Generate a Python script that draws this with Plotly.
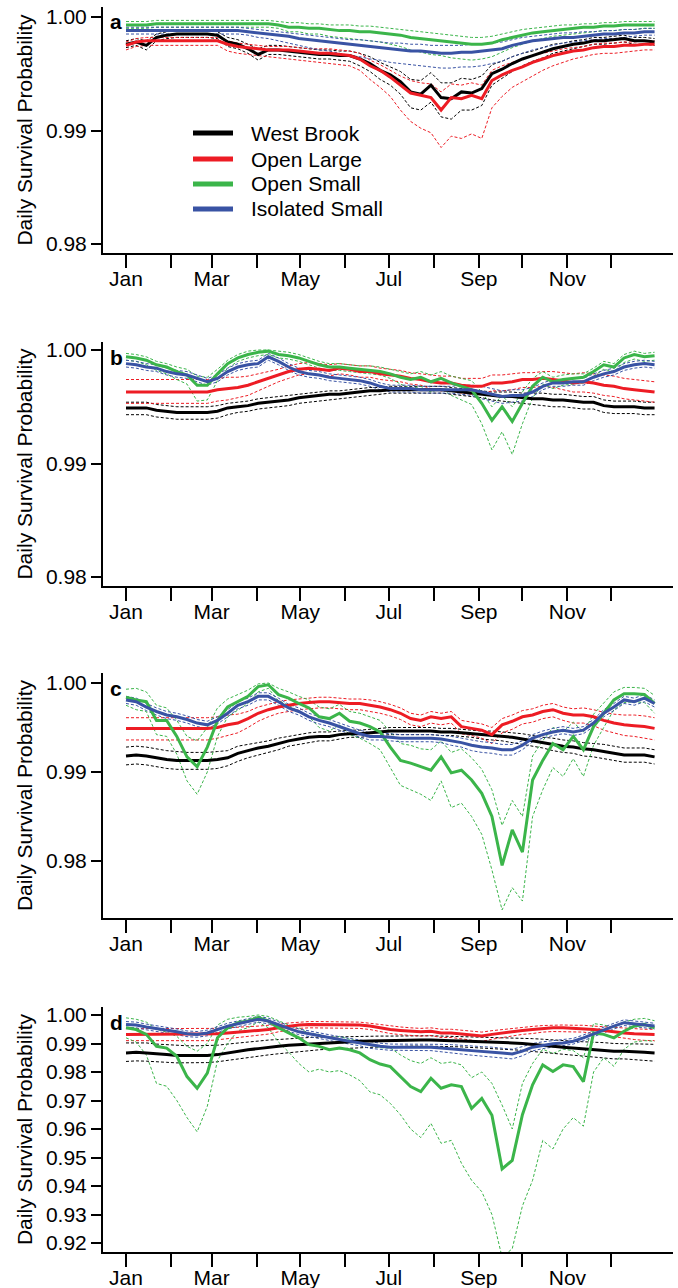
import plotly.graph_objects as go

# ---------------- data ----------------
days = [0, 7, 14, 21, 28, 35, 42, 49, 56, 63, 70, 77, 84, 91, 98, 105, 112, 119, 126, 133,
        140, 147, 154, 161, 168, 175, 182, 189, 196, 203, 210, 217, 224, 231, 238, 245, 252,
        259, 266, 273, 280, 287, 294, 301, 308, 315, 322, 329, 336, 343, 350, 357, 364]

month_days = [0, 31, 59, 90, 120, 151, 181, 212, 243, 273, 304, 334]
month_labels = ["Jan", "", "Mar", "", "May", "", "Jul", "", "Sep", "", "Nov", ""]

series_names = ["West Brook", "Open Large", "Open Small", "Isolated Small"]
panel_letters = ["a", "b", "c", "d"]

# ----- panel a -----
a_wb = [0.9976,0.9978,0.9975,0.9982,0.9984,0.9985,0.9985,0.9985,0.9985,0.9984,
        0.9978,0.9976,0.9972,0.9967,0.9971,0.9971,0.9970,0.9969,0.9968,0.9967,
        0.9967,0.9966,0.9966,0.9963,0.9959,0.9953,0.9949,0.9943,0.9934,0.9932,
        0.9940,0.9929,0.9928,0.9934,0.9933,0.9937,0.9950,0.9954,0.9959,0.9963,
        0.9966,0.9969,0.9972,0.9974,0.9976,0.9977,0.9979,0.9979,0.9980,0.9981,
        0.9979,0.9979,0.9978]
a_wb_hi = [0.9979,0.9981,0.9979,0.9985,0.9987,0.9988,0.9988,0.9988,0.9988,0.9987,
           0.9982,0.9980,0.9976,0.9972,0.9975,0.9975,0.9974,0.9973,0.9972,0.9971,
           0.9971,0.9970,0.9970,0.9968,0.9965,0.9960,0.9956,0.9952,0.9945,0.9944,
           0.9951,0.9942,0.9942,0.9946,0.9945,0.9948,0.9958,0.9961,0.9965,0.9968,
           0.9970,0.9973,0.9976,0.9977,0.9979,0.9980,0.9982,0.9982,0.9983,0.9984,
           0.9982,0.9982,0.9981]
a_wb_lo = [0.9973,0.9975,0.9971,0.9979,0.9981,0.9982,0.9982,0.9982,0.9982,0.9981,
           0.9974,0.9972,0.9968,0.9962,0.9967,0.9967,0.9966,0.9965,0.9964,0.9963,
           0.9963,0.9962,0.9961,0.9957,0.9952,0.9945,0.9940,0.9932,0.9920,0.9918,
           0.9925,0.9912,0.9910,0.9918,0.9918,0.9922,0.9940,0.9946,0.9952,0.9957,
           0.9961,0.9964,0.9968,0.9970,0.9972,0.9974,0.9976,0.9976,0.9977,0.9978,
           0.9976,0.9976,0.9975]
a_ol = [0.9975,0.9978,0.9979,0.9979,0.9979,0.9979,0.9979,0.9979,0.9979,0.9979,
        0.9976,0.9974,0.9973,0.9972,0.9971,0.9971,0.9971,0.9970,0.9969,0.9968,
        0.9968,0.9967,0.9966,0.9963,0.9957,0.9953,0.9947,0.9940,0.9933,0.9931,
        0.9929,0.9918,0.9929,0.9928,0.9931,0.9928,0.9944,0.9949,0.9953,0.9956,
        0.9960,0.9963,0.9966,0.9968,0.9970,0.9971,0.9973,0.9974,0.9974,0.9975,
        0.9975,0.9976,0.9976]
a_ol_hi = [0.9978,0.9981,0.9982,0.9982,0.9982,0.9982,0.9982,0.9982,0.9982,0.9982,
           0.9979,0.9977,0.9976,0.9975,0.9974,0.9974,0.9974,0.9973,0.9972,0.9972,
           0.9972,0.9971,0.9970,0.9968,0.9962,0.9958,0.9953,0.9948,0.9944,0.9942,
           0.9941,0.9934,0.9941,0.9940,0.9942,0.9940,0.9953,0.9957,0.9960,0.9963,
           0.9966,0.9968,0.9970,0.9972,0.9973,0.9974,0.9976,0.9977,0.9977,0.9978,
           0.9978,0.9979,0.9979]
a_ol_lo = [0.9971,0.9974,0.9975,0.9975,0.9975,0.9975,0.9975,0.9975,0.9975,0.9975,
           0.9970,0.9968,0.9967,0.9966,0.9965,0.9964,0.9963,0.9962,0.9961,0.9960,
           0.9959,0.9958,0.9957,0.9953,0.9945,0.9938,0.9930,0.9918,0.9908,0.9902,
           0.9898,0.9885,0.9895,0.9893,0.9897,0.9893,0.9920,0.9930,0.9938,0.9943,
           0.9948,0.9953,0.9957,0.9960,0.9963,0.9965,0.9967,0.9968,0.9968,0.9969,
           0.9970,0.9971,0.9971]
a_os = [0.9993,0.9993,0.9993,0.9994,0.9994,0.9994,0.9994,0.9994,0.9994,0.9994,
        0.9994,0.9994,0.9994,0.9994,0.9994,0.9993,0.9991,0.9991,0.9990,0.9990,
        0.9989,0.9988,0.9988,0.9987,0.9987,0.9986,0.9985,0.9984,0.9982,0.9981,
        0.9980,0.9979,0.9978,0.9977,0.9976,0.9976,0.9977,0.9980,0.9982,0.9984,
        0.9986,0.9987,0.9988,0.9989,0.9990,0.9991,0.9991,0.9992,0.9992,0.9993,
        0.9993,0.9993,0.9993]
a_os_hi = [0.9996,0.9996,0.9996,0.9997,0.9997,0.9997,0.9997,0.9997,0.9997,0.9997,
           0.9997,0.9997,0.9997,0.9997,0.9997,0.9996,0.9995,0.9995,0.9994,0.9994,
           0.9993,0.9993,0.9993,0.9992,0.9992,0.9991,0.9990,0.9989,0.9988,0.9987,
           0.9986,0.9985,0.9984,0.9983,0.9982,0.9982,0.9983,0.9985,0.9987,0.9989,
           0.9990,0.9991,0.9992,0.9993,0.9993,0.9994,0.9994,0.9995,0.9995,0.9996,
           0.9996,0.9996,0.9996]
a_os_lo = [0.9990,0.9990,0.9990,0.9991,0.9991,0.9991,0.9991,0.9991,0.9991,0.9991,
           0.9991,0.9991,0.9991,0.9991,0.9991,0.9990,0.9987,0.9987,0.9985,0.9985,
           0.9983,0.9982,0.9981,0.9980,0.9979,0.9978,0.9976,0.9974,0.9971,0.9969,
           0.9967,0.9966,0.9964,0.9963,0.9962,0.9963,0.9965,0.9969,0.9973,0.9976,
           0.9979,0.9981,0.9983,0.9984,0.9985,0.9986,0.9987,0.9988,0.9988,0.9989,
           0.9989,0.9990,0.9990]
a_is = [0.9988,0.9988,0.9988,0.9988,0.9988,0.9988,0.9988,0.9988,0.9988,0.9988,
        0.9988,0.9988,0.9987,0.9986,0.9985,0.9984,0.9983,0.9981,0.9980,0.9979,
        0.9978,0.9977,0.9976,0.9975,0.9974,0.9973,0.9972,0.9971,0.9970,0.9970,
        0.9969,0.9968,0.9968,0.9969,0.9969,0.9970,0.9971,0.9972,0.9975,0.9977,
        0.9979,0.9980,0.9981,0.9982,0.9982,0.9983,0.9984,0.9985,0.9985,0.9986,
        0.9986,0.9987,0.9987]
a_is_hi = [0.9991,0.9991,0.9991,0.9991,0.9991,0.9991,0.9991,0.9991,0.9991,0.9991,
           0.9991,0.9991,0.9990,0.9989,0.9988,0.9987,0.9986,0.9985,0.9984,0.9983,
           0.9982,0.9981,0.9980,0.9980,0.9979,0.9978,0.9977,0.9977,0.9976,0.9976,
           0.9975,0.9975,0.9975,0.9975,0.9976,0.9976,0.9977,0.9978,0.9980,0.9982,
           0.9983,0.9984,0.9985,0.9986,0.9986,0.9987,0.9987,0.9988,0.9988,0.9989,
           0.9989,0.9990,0.9990]
a_is_lo = [0.9985,0.9985,0.9985,0.9985,0.9985,0.9985,0.9985,0.9985,0.9985,0.9985,
           0.9985,0.9985,0.9984,0.9982,0.9981,0.9979,0.9977,0.9975,0.9973,0.9971,
           0.9970,0.9968,0.9966,0.9965,0.9963,0.9962,0.9960,0.9959,0.9958,0.9957,
           0.9956,0.9955,0.9955,0.9956,0.9956,0.9957,0.9959,0.9961,0.9965,0.9968,
           0.9971,0.9973,0.9975,0.9977,0.9978,0.9979,0.9980,0.9981,0.9981,0.9982,
           0.9983,0.9984,0.9984]

# ----- panel b -----
b_wb = [0.9949,0.9949,0.9949,0.9947,0.9946,0.9945,0.9945,0.9945,0.9945,0.9946,
        0.9949,0.9950,0.9951,0.9953,0.9954,0.9955,0.9956,0.9958,0.9959,0.9960,
        0.9961,0.9961,0.9962,0.9963,0.9964,0.9964,0.9965,0.9965,0.9965,0.9965,
        0.9965,0.9965,0.9964,0.9963,0.9962,0.9961,0.9960,0.9959,0.9959,0.9958,
        0.9957,0.9957,0.9956,0.9956,0.9955,0.9954,0.9954,0.9951,0.9950,0.9950,
        0.9950,0.9949,0.9949]
b_wb_hi = [0.9954,0.9954,0.9954,0.9952,0.9951,0.9950,0.9950,0.9950,0.9950,0.9951,
           0.9953,0.9954,0.9955,0.9957,0.9958,0.9959,0.9960,0.9961,0.9962,0.9963,
           0.9964,0.9964,0.9965,0.9966,0.9967,0.9967,0.9968,0.9968,0.9968,0.9968,
           0.9968,0.9968,0.9967,0.9966,0.9965,0.9964,0.9963,0.9963,0.9963,0.9962,
           0.9962,0.9962,0.9961,0.9961,0.9960,0.9959,0.9959,0.9956,0.9955,0.9955,
           0.9955,0.9954,0.9954]
b_wb_lo = [0.9943,0.9943,0.9943,0.9941,0.9940,0.9939,0.9939,0.9939,0.9939,0.9940,
           0.9943,0.9945,0.9946,0.9948,0.9949,0.9950,0.9951,0.9953,0.9954,0.9955,
           0.9956,0.9957,0.9958,0.9959,0.9960,0.9961,0.9962,0.9962,0.9962,0.9962,
           0.9962,0.9962,0.9961,0.9960,0.9959,0.9958,0.9956,0.9955,0.9954,0.9953,
           0.9952,0.9951,0.9950,0.9950,0.9949,0.9948,0.9948,0.9945,0.9944,0.9944,
           0.9944,0.9943,0.9943]
b_ol = [0.9963,0.9963,0.9963,0.9963,0.9963,0.9963,0.9963,0.9963,0.9963,0.9965,
        0.9966,0.9967,0.9969,0.9972,0.9975,0.9978,0.9981,0.9983,0.9984,0.9983,
        0.9982,0.9984,0.9983,0.9981,0.9981,0.9979,0.9978,0.9977,0.9975,0.9974,
        0.9972,0.9971,0.9971,0.9969,0.9968,0.9968,0.9971,0.9971,0.9972,0.9974,
        0.9974,0.9975,0.9974,0.9973,0.9971,0.9972,0.9971,0.9969,0.9968,0.9966,
        0.9965,0.9964,0.9963]
b_ol_hi = [0.9974,0.9974,0.9974,0.9974,0.9974,0.9974,0.9974,0.9974,0.9974,0.9975,
           0.9976,0.9976,0.9977,0.9979,0.9981,0.9983,0.9986,0.9988,0.9989,0.9988,
           0.9987,0.9988,0.9987,0.9986,0.9986,0.9984,0.9983,0.9982,0.9980,0.9979,
           0.9978,0.9977,0.9977,0.9975,0.9975,0.9975,0.9978,0.9978,0.9979,0.9980,
           0.9980,0.9981,0.9981,0.9980,0.9979,0.9980,0.9979,0.9978,0.9977,0.9975,
           0.9974,0.9973,0.9972]
b_ol_lo = [0.9953,0.9953,0.9953,0.9953,0.9953,0.9953,0.9953,0.9953,0.9953,0.9955,
           0.9956,0.9958,0.9960,0.9964,0.9968,0.9972,0.9975,0.9978,0.9979,0.9978,
           0.9977,0.9979,0.9978,0.9976,0.9976,0.9974,0.9973,0.9972,0.9970,0.9969,
           0.9966,0.9964,0.9964,0.9962,0.9961,0.9961,0.9964,0.9964,0.9965,0.9967,
           0.9967,0.9968,0.9967,0.9965,0.9963,0.9963,0.9962,0.9960,0.9959,0.9957,
           0.9956,0.9955,0.9954]
b_os = [0.9994,0.9993,0.9991,0.9987,0.9985,0.9981,0.9978,0.9969,0.9969,0.9979,
        0.9988,0.9993,0.9996,0.9998,0.9999,0.9996,0.9995,0.9993,0.9990,0.9987,
        0.9985,0.9985,0.9984,0.9983,0.9982,0.9981,0.9979,0.9976,0.9974,0.9976,
        0.9972,0.9975,0.9971,0.9968,0.9965,0.9953,0.9938,0.9950,0.9937,0.9953,
        0.9968,0.9976,0.9972,0.9974,0.9975,0.9976,0.9981,0.9987,0.9985,0.9993,
        0.9996,0.9994,0.9995]
b_os_hi = [0.9997,0.9996,0.9994,0.9990,0.9988,0.9985,0.9983,0.9977,0.9976,0.9983,
           0.9991,0.9996,0.9999,1.0000,1.0000,0.9999,0.9998,0.9996,0.9993,0.9990,
           0.9988,0.9988,0.9987,0.9986,0.9986,0.9985,0.9983,0.9981,0.9979,0.9981,
           0.9978,0.9981,0.9977,0.9975,0.9973,0.9963,0.9950,0.9960,0.9950,0.9963,
           0.9975,0.9981,0.9976,0.9978,0.9979,0.9979,0.9984,0.9990,0.9988,0.9996,
           0.9999,0.9997,0.9998]
b_os_lo = [0.9991,0.9990,0.9987,0.9982,0.9979,0.9974,0.9970,0.9955,0.9956,0.9973,
           0.9984,0.9990,0.9993,0.9995,0.9996,0.9993,0.9992,0.9990,0.9987,0.9984,
           0.9982,0.9982,0.9981,0.9980,0.9979,0.9978,0.9975,0.9970,0.9966,0.9968,
           0.9963,0.9966,0.9960,0.9956,0.9952,0.9935,0.9912,0.9928,0.9908,0.9935,
           0.9958,0.9970,0.9966,0.9969,0.9970,0.9971,0.9977,0.9983,0.9981,0.9989,
           0.9992,0.9990,0.9991]
b_is = [0.9988,0.9987,0.9985,0.9984,0.9981,0.9979,0.9978,0.9975,0.9972,0.9975,
        0.9981,0.9985,0.9987,0.9988,0.9994,0.9990,0.9985,0.9981,0.9979,0.9978,
        0.9976,0.9975,0.9974,0.9973,0.9971,0.9968,0.9966,0.9966,0.9966,0.9965,
        0.9965,0.9965,0.9965,0.9965,0.9965,0.9963,0.9961,0.9959,0.9960,0.9960,
        0.9963,0.9968,0.9971,0.9971,0.9972,0.9972,0.9976,0.9979,0.9981,0.9985,
        0.9987,0.9988,0.9987]
b_is_hi = [0.9991,0.9990,0.9988,0.9987,0.9984,0.9982,0.9981,0.9978,0.9975,0.9978,
           0.9984,0.9988,0.9990,0.9991,0.9997,0.9993,0.9988,0.9984,0.9982,0.9981,
           0.9979,0.9978,0.9977,0.9976,0.9974,0.9971,0.9969,0.9969,0.9969,0.9968,
           0.9968,0.9968,0.9968,0.9969,0.9969,0.9968,0.9966,0.9964,0.9965,0.9965,
           0.9967,0.9971,0.9974,0.9974,0.9975,0.9975,0.9979,0.9982,0.9984,0.9988,
           0.9990,0.9991,0.9990]
b_is_lo = [0.9985,0.9984,0.9982,0.9981,0.9978,0.9976,0.9975,0.9972,0.9969,0.9972,
           0.9978,0.9982,0.9984,0.9985,0.9991,0.9987,0.9982,0.9978,0.9976,0.9975,
           0.9973,0.9972,0.9971,0.9970,0.9968,0.9965,0.9963,0.9963,0.9963,0.9962,
           0.9962,0.9962,0.9962,0.9961,0.9960,0.9957,0.9955,0.9953,0.9954,0.9955,
           0.9959,0.9965,0.9968,0.9968,0.9969,0.9969,0.9973,0.9976,0.9978,0.9982,
           0.9984,0.9985,0.9984]

# ----- panel c -----
c_wb = [0.9918,0.9919,0.9918,0.9916,0.9914,0.9913,0.9913,0.9913,0.9913,0.9914,
        0.9916,0.9921,0.9924,0.9927,0.9929,0.9932,0.9935,0.9937,0.9939,0.9940,
        0.9940,0.9942,0.9943,0.9943,0.9944,0.9945,0.9946,0.9946,0.9946,0.9946,
        0.9946,0.9945,0.9945,0.9944,0.9943,0.9942,0.9941,0.9940,0.9939,0.9937,
        0.9935,0.9933,0.9931,0.9929,0.9928,0.9926,0.9925,0.9923,0.9921,0.9919,
        0.9919,0.9919,0.9917]
c_wb_hi = [0.9928,0.9929,0.9928,0.9926,0.9924,0.9923,0.9922,0.9922,0.9922,0.9923,
           0.9924,0.9929,0.9931,0.9933,0.9935,0.9938,0.9940,0.9942,0.9944,0.9945,
           0.9945,0.9946,0.9947,0.9947,0.9948,0.9949,0.9950,0.9950,0.9950,0.9950,
           0.9950,0.9949,0.9949,0.9948,0.9947,0.9946,0.9946,0.9945,0.9944,0.9943,
           0.9941,0.9939,0.9938,0.9936,0.9935,0.9933,0.9932,0.9931,0.9929,0.9927,
           0.9927,0.9927,0.9925]
c_wb_lo = [0.9908,0.9909,0.9908,0.9906,0.9904,0.9903,0.9903,0.9903,0.9903,0.9904,
           0.9907,0.9912,0.9916,0.9919,0.9922,0.9925,0.9929,0.9931,0.9933,0.9935,
           0.9935,0.9937,0.9939,0.9939,0.9940,0.9941,0.9942,0.9942,0.9942,0.9942,
           0.9942,0.9941,0.9941,0.9940,0.9939,0.9937,0.9936,0.9935,0.9933,0.9931,
           0.9929,0.9927,0.9924,0.9922,0.9921,0.9918,0.9917,0.9915,0.9913,0.9911,
           0.9911,0.9911,0.9909]
c_ol = [0.9949,0.9949,0.9949,0.9949,0.9949,0.9949,0.9949,0.9949,0.9949,0.9950,
        0.9953,0.9955,0.9960,0.9966,0.9970,0.9973,0.9975,0.9977,0.9978,0.9979,
        0.9979,0.9978,0.9977,0.9977,0.9975,0.9973,0.9970,0.9966,0.9960,0.9958,
        0.9962,0.9960,0.9962,0.9951,0.9949,0.9947,0.9942,0.9953,0.9957,0.9962,
        0.9964,0.9968,0.9970,0.9966,0.9964,0.9964,0.9962,0.9958,0.9955,0.9953,
        0.9952,0.9951,0.9949]
c_ol_hi = [0.9961,0.9961,0.9961,0.9961,0.9961,0.9961,0.9961,0.9961,0.9961,0.9962,
           0.9964,0.9965,0.9968,0.9973,0.9976,0.9979,0.9981,0.9982,0.9983,0.9984,
           0.9984,0.9983,0.9982,0.9982,0.9981,0.9979,0.9976,0.9972,0.9966,0.9964,
           0.9968,0.9966,0.9968,0.9958,0.9956,0.9954,0.9950,0.9960,0.9964,0.9969,
           0.9971,0.9975,0.9977,0.9973,0.9971,0.9972,0.9970,0.9967,0.9965,0.9964,
           0.9964,0.9963,0.9961]
c_ol_lo = [0.9936,0.9936,0.9936,0.9936,0.9936,0.9936,0.9936,0.9936,0.9936,0.9938,
           0.9941,0.9944,0.9950,0.9957,0.9962,0.9966,0.9968,0.9970,0.9971,0.9972,
           0.9972,0.9971,0.9970,0.9970,0.9968,0.9966,0.9963,0.9959,0.9953,0.9951,
           0.9955,0.9953,0.9955,0.9943,0.9941,0.9938,0.9932,0.9944,0.9948,0.9954,
           0.9956,0.9960,0.9962,0.9958,0.9955,0.9955,0.9952,0.9947,0.9944,0.9941,
           0.9940,0.9938,0.9936]
c_os = [0.9984,0.9981,0.9979,0.9958,0.9958,0.9940,0.9917,0.9906,0.9928,0.9958,
        0.9973,0.9979,0.9985,0.9996,0.9998,0.9987,0.9983,0.9977,0.9972,0.9962,
        0.9960,0.9966,0.9957,0.9955,0.9951,0.9945,0.9928,0.9913,0.9910,0.9906,
        0.9902,0.9917,0.9899,0.9902,0.9891,0.9876,0.9850,0.9795,0.9835,0.9810,
        0.9891,0.9913,0.9932,0.9925,0.9940,0.9925,0.9951,0.9966,0.9981,0.9988,
        0.9988,0.9987,0.9977]
c_os_hi = [0.9993,0.9994,0.9990,0.9975,0.9972,0.9958,0.9940,0.9935,0.9950,0.9972,
           0.9982,0.9987,0.9992,0.9999,1.0000,0.9994,0.9990,0.9985,0.9981,0.9973,
           0.9971,0.9976,0.9968,0.9966,0.9962,0.9958,0.9945,0.9932,0.9930,0.9926,
           0.9925,0.9935,0.9922,0.9926,0.9916,0.9903,0.9880,0.9840,0.9868,0.9850,
           0.9918,0.9935,0.9950,0.9945,0.9956,0.9945,0.9965,0.9978,0.9990,0.9995,
           0.9995,0.9994,0.9986]
c_os_lo = [0.9975,0.9970,0.9968,0.9942,0.9940,0.9920,0.9890,0.9875,0.9900,0.9940,
           0.9962,0.9970,0.9977,0.9990,0.9994,0.9980,0.9975,0.9968,0.9962,0.9950,
           0.9946,0.9953,0.9942,0.9938,0.9932,0.9925,0.9905,0.9885,0.9880,0.9875,
           0.9868,0.9890,0.9860,0.9865,0.9850,0.9830,0.9790,0.9745,0.9770,0.9755,
           0.9850,0.9880,0.9905,0.9895,0.9915,0.9895,0.9930,0.9950,0.9970,0.9978,
           0.9979,0.9978,0.9966]
c_is = [0.9981,0.9979,0.9973,0.9968,0.9964,0.9962,0.9959,0.9955,0.9953,0.9958,
        0.9966,0.9975,0.9979,0.9985,0.9985,0.9979,0.9972,0.9968,0.9962,0.9958,
        0.9955,0.9951,0.9947,0.9943,0.9940,0.9940,0.9939,0.9938,0.9938,0.9938,
        0.9938,0.9937,0.9935,0.9933,0.9930,0.9928,0.9927,0.9925,0.9925,0.9930,
        0.9938,0.9942,0.9945,0.9947,0.9945,0.9947,0.9955,0.9966,0.9973,0.9981,
        0.9979,0.9983,0.9977]
c_is_hi = [0.9985,0.9983,0.9977,0.9972,0.9968,0.9966,0.9963,0.9959,0.9957,0.9962,
           0.9970,0.9979,0.9983,0.9989,0.9989,0.9983,0.9976,0.9972,0.9966,0.9962,
           0.9959,0.9955,0.9951,0.9947,0.9944,0.9944,0.9943,0.9942,0.9942,0.9942,
           0.9942,0.9941,0.9940,0.9938,0.9936,0.9934,0.9933,0.9931,0.9931,0.9935,
           0.9942,0.9946,0.9949,0.9951,0.9949,0.9951,0.9959,0.9970,0.9977,0.9985,
           0.9983,0.9987,0.9981]
c_is_lo = [0.9977,0.9975,0.9969,0.9964,0.9960,0.9958,0.9955,0.9951,0.9949,0.9954,
           0.9962,0.9971,0.9975,0.9981,0.9981,0.9975,0.9968,0.9964,0.9958,0.9954,
           0.9951,0.9947,0.9943,0.9939,0.9936,0.9936,0.9935,0.9934,0.9934,0.9934,
           0.9934,0.9933,0.9930,0.9928,0.9924,0.9922,0.9921,0.9919,0.9919,0.9925,
           0.9934,0.9938,0.9941,0.9943,0.9941,0.9943,0.9951,0.9962,0.9969,0.9977,
           0.9975,0.9979,0.9973]

# ----- panel d -----
d_wb = [0.9867,0.9869,0.9867,0.9863,0.9861,0.9858,0.9858,0.9858,0.9858,0.9861,
        0.9867,0.9873,0.9878,0.9882,0.9887,0.9890,0.9894,0.9896,0.9900,0.9902,
        0.9904,0.9905,0.9907,0.9908,0.9909,0.9910,0.9910,0.9912,0.9912,0.9912,
        0.9912,0.9910,0.9910,0.9909,0.9908,0.9907,0.9906,0.9904,0.9902,0.9900,
        0.9896,0.9894,0.9890,0.9887,0.9884,0.9882,0.9880,0.9877,0.9873,0.9873,
        0.9870,0.9869,0.9867]
d_wb_hi = [0.9902,0.9903,0.9902,0.9898,0.9896,0.9893,0.9892,0.9892,0.9892,0.9894,
           0.9898,0.9902,0.9906,0.9909,0.9912,0.9914,0.9917,0.9918,0.9921,0.9922,
           0.9923,0.9924,0.9925,0.9925,0.9926,0.9926,0.9926,0.9927,0.9927,0.9927,
           0.9927,0.9926,0.9926,0.9925,0.9924,0.9924,0.9923,0.9922,0.9921,0.9920,
           0.9917,0.9915,0.9912,0.9910,0.9908,0.9906,0.9905,0.9903,0.9900,0.9900,
           0.9898,0.9898,0.9897]
d_wb_lo = [0.9837,0.9839,0.9838,0.9835,0.9834,0.9832,0.9832,0.9832,0.9833,0.9836,
           0.9841,0.9847,0.9852,0.9856,0.9860,0.9864,0.9868,0.9871,0.9875,0.9878,
           0.9880,0.9882,0.9884,0.9885,0.9887,0.9888,0.9889,0.9891,0.9891,0.9891,
           0.9891,0.9889,0.9889,0.9888,0.9886,0.9885,0.9884,0.9881,0.9879,0.9876,
           0.9872,0.9869,0.9865,0.9862,0.9859,0.9856,0.9853,0.9850,0.9846,0.9846,
           0.9843,0.9841,0.9838]
d_ol = [0.9932,0.9932,0.9932,0.9932,0.9932,0.9932,0.9932,0.9932,0.9932,0.9934,
        0.9937,0.9941,0.9943,0.9946,0.9949,0.9955,0.9961,0.9965,0.9967,0.9967,
        0.9967,0.9967,0.9967,0.9965,0.9961,0.9955,0.9949,0.9946,0.9943,0.9941,
        0.9943,0.9937,0.9937,0.9934,0.9929,0.9926,0.9932,0.9937,0.9943,0.9946,
        0.9949,0.9953,0.9955,0.9955,0.9953,0.9953,0.9949,0.9946,0.9941,0.9937,
        0.9934,0.9932,0.9932]
d_ol_hi = [0.9952,0.9952,0.9952,0.9952,0.9952,0.9952,0.9952,0.9952,0.9952,0.9953,
           0.9955,0.9958,0.9959,0.9961,0.9963,0.9967,0.9972,0.9975,0.9977,0.9977,
           0.9977,0.9977,0.9977,0.9975,0.9971,0.9966,0.9961,0.9958,0.9955,0.9953,
           0.9955,0.9950,0.9950,0.9947,0.9943,0.9940,0.9945,0.9949,0.9954,0.9957,
           0.9960,0.9963,0.9965,0.9965,0.9964,0.9964,0.9961,0.9959,0.9956,0.9953,
           0.9951,0.9950,0.9950]
d_ol_lo = [0.9910,0.9910,0.9910,0.9910,0.9910,0.9910,0.9910,0.9910,0.9910,0.9913,
           0.9917,0.9922,0.9925,0.9929,0.9933,0.9941,0.9948,0.9953,0.9955,0.9955,
           0.9955,0.9955,0.9955,0.9953,0.9949,0.9942,0.9935,0.9931,0.9928,0.9926,
           0.9928,0.9921,0.9921,0.9917,0.9911,0.9907,0.9915,0.9921,0.9928,0.9932,
           0.9935,0.9940,0.9942,0.9942,0.9940,0.9940,0.9935,0.9931,0.9924,0.9918,
           0.9914,0.9911,0.9910]
d_os = [0.9955,0.9949,0.9932,0.9890,0.9884,0.9855,0.9784,0.9743,0.9796,0.9920,
        0.9955,0.9973,0.9979,0.9991,0.9979,0.9955,0.9937,0.9920,0.9896,0.9890,
        0.9878,0.9884,0.9878,0.9867,0.9843,0.9828,0.9819,0.9784,0.9749,0.9731,
        0.9778,0.9743,0.9755,0.9749,0.9672,0.9707,0.9648,0.9460,0.9490,0.9650,
        0.9755,0.9825,0.9802,0.9825,0.9819,0.9766,0.9937,0.9932,0.9920,0.9943,
        0.9961,0.9967,0.9955]
d_os_hi = [0.9990,0.9985,0.9975,0.9950,0.9940,0.9925,0.9890,0.9873,0.9900,0.9965,
           0.9985,0.9992,0.9995,1.0000,0.9995,0.9980,0.9965,0.9955,0.9935,0.9932,
           0.9920,0.9925,0.9915,0.9908,0.9895,0.9885,0.9884,0.9860,0.9840,0.9830,
           0.9850,0.9830,0.9835,0.9825,0.9780,0.9800,0.9760,0.9684,0.9600,0.9760,
           0.9830,0.9880,0.9865,0.9880,0.9875,0.9850,0.9970,0.9965,0.9955,0.9975,
           0.9985,0.9988,0.9980]
d_os_lo = [0.9920,0.9905,0.9860,0.9760,0.9750,0.9700,0.9640,0.9590,0.9680,0.9840,
           0.9900,0.9945,0.9955,0.9975,0.9955,0.9905,0.9870,0.9830,0.9800,0.9810,
           0.9800,0.9805,0.9790,0.9770,0.9730,0.9720,0.9690,0.9650,0.9600,0.9570,
           0.9620,0.9550,0.9560,0.9480,0.9420,0.9380,0.9300,0.9150,0.9180,0.9330,
           0.9420,0.9560,0.9530,0.9600,0.9640,0.9610,0.9800,0.9850,0.9820,0.9880,
           0.9905,0.9910,0.9908]
d_is = [0.9967,0.9965,0.9958,0.9953,0.9946,0.9941,0.9934,0.9932,0.9937,0.9949,
        0.9961,0.9969,0.9976,0.9985,0.9979,0.9965,0.9953,0.9941,0.9934,0.9926,
        0.9920,0.9914,0.9908,0.9902,0.9894,0.9890,0.9887,0.9887,0.9887,0.9887,
        0.9887,0.9884,0.9882,0.9878,0.9875,0.9873,0.9870,0.9867,0.9863,0.9873,
        0.9887,0.9894,0.9899,0.9902,0.9908,0.9920,0.9934,0.9946,0.9961,0.9973,
        0.9969,0.9967,0.9961]
d_is_hi = [0.9977,0.9975,0.9968,0.9963,0.9956,0.9951,0.9944,0.9942,0.9947,0.9959,
           0.9971,0.9979,0.9986,0.9995,0.9989,0.9975,0.9963,0.9951,0.9944,0.9936,
           0.9930,0.9924,0.9918,0.9912,0.9905,0.9901,0.9898,0.9898,0.9898,0.9898,
           0.9899,0.9897,0.9896,0.9893,0.9891,0.9889,0.9887,0.9884,0.9880,0.9889,
           0.9900,0.9906,0.9910,0.9912,0.9918,0.9930,0.9944,0.9956,0.9971,0.9983,
           0.9979,0.9977,0.9971]
d_is_lo = [0.9957,0.9955,0.9948,0.9943,0.9936,0.9931,0.9924,0.9922,0.9927,0.9939,
           0.9951,0.9959,0.9966,0.9975,0.9969,0.9955,0.9943,0.9931,0.9924,0.9916,
           0.9910,0.9904,0.9898,0.9892,0.9883,0.9879,0.9876,0.9876,0.9876,0.9876,
           0.9875,0.9871,0.9868,0.9863,0.9859,0.9856,0.9853,0.9850,0.9846,0.9857,
           0.9874,0.9882,0.9888,0.9892,0.9898,0.9910,0.9924,0.9936,0.9951,0.9963,
           0.9959,0.9957,0.9951]

panels = [
    [(a_wb, a_wb_lo, a_wb_hi), (a_ol, a_ol_lo, a_ol_hi), (a_os, a_os_lo, a_os_hi), (a_is, a_is_lo, a_is_hi)],
    [(b_wb, b_wb_lo, b_wb_hi), (b_ol, b_ol_lo, b_ol_hi), (b_os, b_os_lo, b_os_hi), (b_is, b_is_lo, b_is_hi)],
    [(c_wb, c_wb_lo, c_wb_hi), (c_ol, c_ol_lo, c_ol_hi), (c_os, c_os_lo, c_os_hi), (c_is, c_is_lo, c_is_hi)],
    [(d_wb, d_wb_lo, d_wb_hi), (d_ol, d_ol_lo, d_ol_hi), (d_os, d_os_lo, d_os_hi), (d_is, d_is_lo, d_is_hi)],
]
for p in panels:
    for trio in p:
        for arr in trio:
            assert len(arr) == len(days), len(arr)

y_ticks = [
    [0.98, 0.99, 1.00],
    [0.98, 0.99, 1.00],
    [0.98, 0.99, 1.00],
    [0.92, 0.93, 0.94, 0.95, 0.96, 0.97, 0.98, 0.99, 1.00],
]

# ---------------- style / layout ----------------
W, H = 678, 1288
FONT = "Liberation Sans, Arial, Helvetica, sans-serif"
COLORS = ["#000000", "#ED1C24", "#3BB54A", "#3953A4"]

panel_px = [(7, 253), (342, 586), (673, 918), (1007, 1252)]
y_ranges = [(0.979207, 1.000881), (0.979207, 1.000705), (0.973596, 1.001124), (0.916842, 1.002807)]
x_left, x_right = 103, 673
x_range = [-15.84, 376.7]

fig = go.Figure()

for i, series in enumerate(panels):
    xa = "x" if i == 0 else f"x{i+1}"
    ya = "y" if i == 0 else f"y{i+1}"
    for k, (m, lo, hi) in enumerate(series):
        for bound in (lo, hi):
            fig.add_trace(go.Scatter(
                x=days, y=bound, mode="lines", xaxis=xa, yaxis=ya,
                line=dict(color=COLORS[k], width=1, dash="3px,2px"),
                showlegend=False, hoverinfo="skip"))
    for k, (m, lo, hi) in enumerate(series):
        fig.add_trace(go.Scatter(
            x=days, y=m, mode="lines", xaxis=xa, yaxis=ya, name=series_names[k],
            line=dict(color=COLORS[k], width=3), showlegend=False))

layout = dict(
    width=W, height=H, margin=dict(l=0, r=0, t=0, b=0),
    paper_bgcolor="white", plot_bgcolor="white",
    font=dict(family=FONT, size=21, color="black"),
    showlegend=False,
)
annotations = []
shapes = []
for i in range(4):
    top, bot = panel_px[i]
    xk = "xaxis" if i == 0 else f"xaxis{i+1}"
    yk = "yaxis" if i == 0 else f"yaxis{i+1}"
    xa = "x" if i == 0 else f"x{i+1}"
    ya = "y" if i == 0 else f"y{i+1}"
    layout[xk] = dict(
        domain=[x_left / W, x_right / W], range=x_range, anchor=ya,
        tickmode="array", tickvals=month_days, ticktext=month_labels,
        ticks="outside", ticklen=13, tickwidth=2, tickcolor="black",
        ticklabelstandoff=-7,
        showline=True, linewidth=2, linecolor="black",
        showgrid=False, zeroline=False, automargin=False,
        tickfont=dict(family=FONT, size=21, color="black"),
    )
    layout[yk] = dict(
        domain=[1 - bot / H, 1 - top / H], range=list(y_ranges[i]), anchor=xa,
        tickmode="array", tickvals=y_ticks[i], tickformat=".2f",
        ticks="outside", ticklen=10, tickwidth=2, tickcolor="black",
        showline=True, linewidth=2, linecolor="black",
        showgrid=False, zeroline=False, automargin=False,
        tickfont=dict(family=FONT, size=21, color="black"),
        title=dict(text="Daily Survival Probability", standoff=8,
                   font=dict(family=FONT, size=21, color="black")),
    )
    annotations.append(dict(
        text="<b>%s</b>" % panel_letters[i], xref="paper", yref="paper",
        x=108 / W, y=1 - (top + 15) / H, xanchor="left", yanchor="middle",
        showarrow=False, font=dict(family=FONT, size=21, color="black")))

legend_rows = [133, 159, 184, 209]
for k, name in enumerate(series_names):
    yy = 1 - legend_rows[k] / H
    shapes.append(dict(type="line", xref="paper", yref="paper",
                       x0=193 / W, x1=233 / W, y0=yy, y1=yy,
                       line=dict(color=COLORS[k], width=5)))
    annotations.append(dict(text=name, xref="paper", yref="paper",
                            x=249 / W, y=yy, xanchor="left", yanchor="middle",
                            showarrow=False,
                            font=dict(family=FONT, size=21, color="black")))

layout["annotations"] = annotations
layout["shapes"] = shapes
fig.update_layout(**layout)

fig.write_html("out.html")
